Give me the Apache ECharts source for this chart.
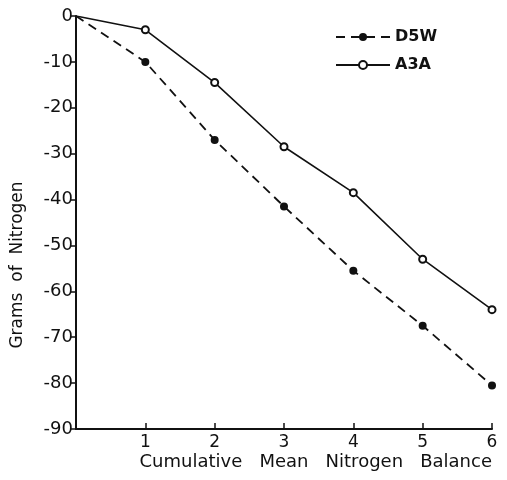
<!DOCTYPE html>
<html>
<head>
<meta charset="utf-8">
<script src="https://cdn.jsdelivr.net/npm/echarts@6/dist/echarts.min.js"></script>
<style>html,body{margin:0;padding:0;background:#fff;}#c{width:507px;height:480px;}</style>
</head>
<body>
<div id="c"></div>
<script>
var xValues = [0, 1, 2, 3, 4, 5, 6];
var d5w = [0, -10, -27, -41.5, -55.5, -67.5, -80.5];
var a3a = [0, -3, -14.5, -28.5, -38.5, -53, -64];
var yTicks = [0, -10, -20, -30, -40, -50, -60, -70, -80, -90];
var xTickLabels = ['', '1', '2', '3', '4', '5', '6'];
var yTitle = 'Grams  of  Nitrogen';
var xTitle = 'Cumulative   Mean   Nitrogen   Balance';

function build(vals) {
  return xValues.map(function (x, i) {
    var item = { value: [x, vals[i]] };
    if (i === 0) item.symbol = 'none';
    return item;
  });
}
var font = 'DejaVu Sans';
var chart = echarts.init(document.getElementById('c'));
chart.setOption({
  animation: false,
  backgroundColor: '#fff',
  grid: { left: 76, top: 16, right: 15, bottom: 51 },
  legend: {
    left: 330, top: 24, orient: 'vertical', itemGap: 12,
    itemWidth: 54, itemHeight: 10,
    textStyle: { fontFamily: font, fontSize: 16, fontWeight: 'bold', color: '#111' },
    data: ['D5W', 'A3A']
  },
  xAxis: {
    type: 'value', min: 0, max: 6, interval: 1,
    axisLine: { onZero: false, lineStyle: { color: '#111', width: 2 } },
    axisTick: { inside: true, length: 6, lineStyle: { color: '#111', width: 1.5 } },
    splitLine: { show: false },
    axisLabel: {
      fontFamily: font, fontSize: 17, color: '#111', margin: 5,
      formatter: function (v) { return xTickLabels[v] || ''; }
    }
  },
  yAxis: {
    type: 'value', min: -90, max: 0, interval: 10,
    axisLine: { show: true, onZero: false, lineStyle: { color: '#111', width: 2 } },
    axisTick: { show: true, length: 5, lineStyle: { color: '#111', width: 1.5 } },
    splitLine: { show: false },
    axisLabel: {
      fontFamily: font, fontSize: 18, color: '#111', margin: 3,
      formatter: function (v) { return yTicks.indexOf(v) >= 0 ? String(v) : ''; }
    }
  },
  graphic: [{
    type: 'text', right: 15, top: 453,
    style: { text: xTitle, fontFamily: font, fontSize: 18, fill: '#111' }
  }, {
    type: 'text', x: 18, y: 265, rotation: Math.PI / 2,
    style: { text: yTitle, fontFamily: font, fontSize: 17, fill: '#111', align: 'center', verticalAlign: 'middle' }
  }],
  series: [
    {
      name: 'D5W', type: 'line', data: build(d5w),
      symbol: 'circle', symbolSize: 8,
      itemStyle: { color: '#111' },
      lineStyle: { color: '#111', width: 1.8, type: [9, 6] }
    },
    {
      name: 'A3A', type: 'line', data: build(a3a),
      symbol: 'emptyCircle', symbolSize: 7,
      itemStyle: { color: '#111', borderWidth: 1.5 },
      lineStyle: { color: '#111', width: 1.6 }
    }
  ]
});
</script>
</body>
</html>
